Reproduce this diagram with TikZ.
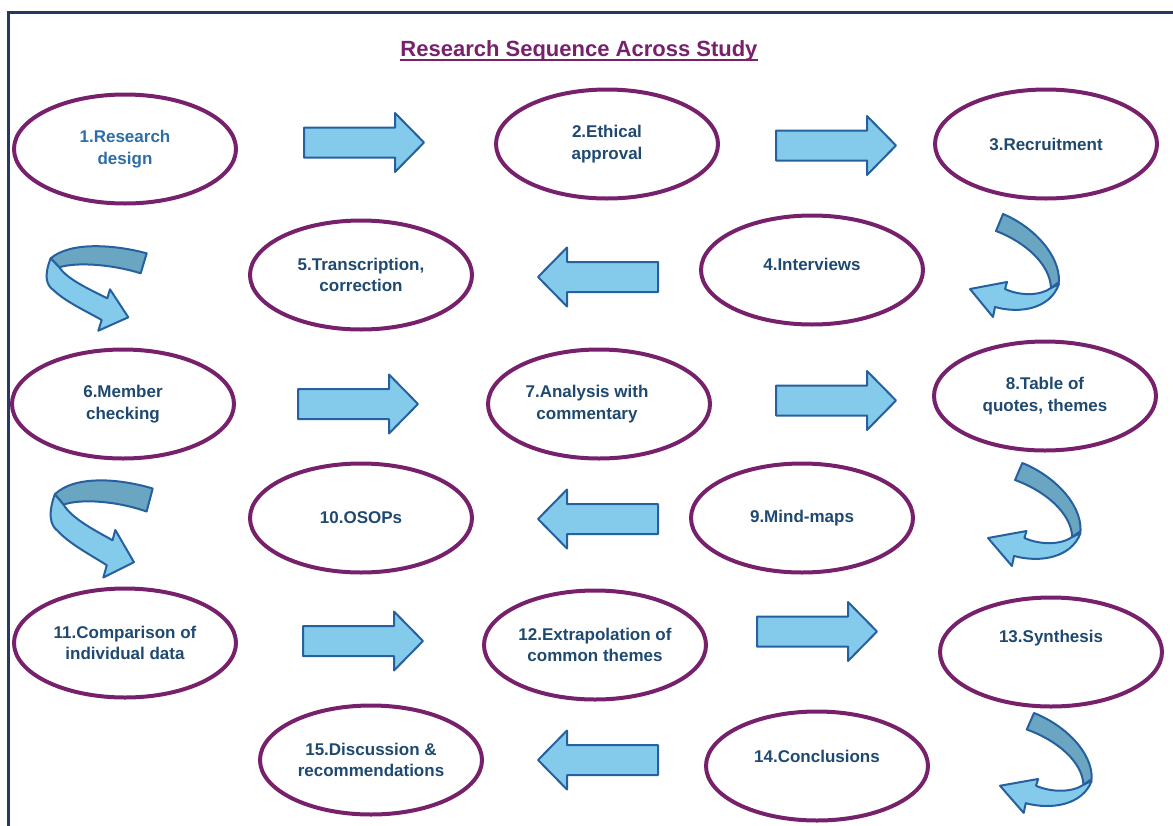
\documentclass[tikz,border=0pt]{standalone}
\usepackage{fontspec}
\setmainfont{Liberation Sans}
\usetikzlibrary{shapes.geometric}

\definecolor{framenavy}{RGB}{36,58,94}
\definecolor{stagepurple}{RGB}{119,33,108}
\definecolor{stagenavy}{RGB}{31,73,112}
\definecolor{firstblue}{RGB}{46,110,166}
\definecolor{arrowlight}{RGB}{131,202,235}
\definecolor{arrowdark}{RGB}{106,165,194}
\definecolor{arrowedge}{RGB}{38,96,158}

\tikzset{
  stage/.style={ellipse, draw=stagepurple, line width=2pt, minimum width=111pt,
    minimum height=54.5pt, inner sep=0pt, align=center, text=stagenavy,
    font=\fontsize{8.5}{10.8}\selectfont\bfseries},
  flat/.style={draw=arrowedge, line width=1pt, line join=round},
  blockarrow/.pic={
    \draw[flat, fill=arrowlight] (-60,-15) -- (31,-15) -- (31,-29.5) -- (60,0)
      -- (31,29.5) -- (31,15) -- (-60,15) -- cycle;
  },
  turnright/.pic={
    \draw[flat, fill=arrowdark] (33,0) .. controls (62,12) and (90,40) .. (89,68)
      -- (81,74) .. controls (80,50) and (55,28) .. (26,17) -- cycle;
    \draw[flat, fill=arrowlight] (81,74) .. controls (70,82) and (50,82) .. (35,75)
      -- (37,68) -- (0,75) -- (23,103) -- (25,93)
      .. controls (50,100) and (80,95) .. (89,70) -- cycle;
  },
  turnleft/.pic={
    \draw[flat, fill=arrowdark] (100.7,8.3) .. controls (70,0) and (25,-4) .. (4.7,13.3)
      -- (13.3,22.3) .. controls (30,17) and (65,19) .. (94.7,28.3) -- cycle;
    \draw[flat, fill=arrowlight] (4.7,13.3) .. controls (-2,30) and (0,40) .. (7.3,45)
      .. controls (20,57) and (40,66) .. (55.7,75) -- (52.3,85.7) -- (82.3,72.3)
      -- (64,44.3) -- (61.3,53.3) .. controls (45,45) and (22,35) .. (13.3,22.3) -- cycle;
  }
}

\begin{document}
\begin{tikzpicture}[x=0.5pt, y=-0.5pt]
  \useasboundingbox (0,0) rectangle (1173,825);
  \clip (0,0) rectangle (1173,825);
  \draw[framenavy, line width=1.5pt] (1180,12) -- (8,12) -- (8,830);

  % title
  \node[font=\fontsize{11}{13}\selectfont\bfseries, text=stagepurple, inner sep=0pt,
    anchor=base] (title) at (579,56.5) {Research Sequence Across Study};
  \draw[stagepurple, line width=1pt] ([yshift=-1.7pt]title.base west)
    -- ([yshift=-1.7pt]title.base east);

  % stages
  \node[stage, text=firstblue] (s1) at (125,149) {1.Research\\design};
  \node[stage] (s2) at (607,144) {2.Ethical\\approval};
  \node[stage] (s3) at (1046,144) {3.Recruitment};
  \node[stage, text depth=6pt] (s4) at (812,270) {4.Interviews};
  \node[stage] (s5) at (361,275) {5.Transcription,\\correction};
  \node[stage] (s6) at (123,404) {6.Member\\checking};
  \node[stage] (s7) at (599,404) {7.Analysis with\hspace*{12pt}\\commentary\hspace*{12pt}};
  \node[stage] (s8) at (1045,396) {8.Table of\\quotes, themes};
  \node[stage] (s9) at (802,518) {9.Mind-maps};
  \node[stage] (s10) at (361,518) {10.OSOPs};
  \node[stage] (s11) at (125,643) {11.Comparison of\\individual data};
  \node[stage] (s12) at (595,645) {12.Extrapolation of\\common themes};
  \node[stage, text depth=16pt] (s13) at (1051,652) {13.Synthesis};
  \node[stage, text depth=10pt] (s14) at (817,766) {14.Conclusions};
  \node[stage] (s15) at (371,760) {15.Discussion \&\\recommendations};

  % straight arrows
  \pic at (364,142.5) {blockarrow};
  \pic at (836,145.5) {blockarrow};
  \pic[xscale=-1] at (598,277) {blockarrow};
  \pic at (358,404) {blockarrow};
  \pic at (836,400.5) {blockarrow};
  \pic[xscale=-1] at (598,519) {blockarrow};
  \pic at (363,641) {blockarrow};
  \pic at (817,631.5) {blockarrow};
  \pic[xscale=-1] at (598,760) {blockarrow};

  % turning arrows
  \pic at (970,214) {turnright};
  \pic[xscale=1.04] at (988,463) {turnright};
  \pic[xscale=1.03, yscale=0.97] at (1000,713) {turnright};
  \pic at (46,245) {turnleft};
  \pic[xscale=1.02, yscale=1.15] at (50,479) {turnleft};
\end{tikzpicture}
\end{document}
